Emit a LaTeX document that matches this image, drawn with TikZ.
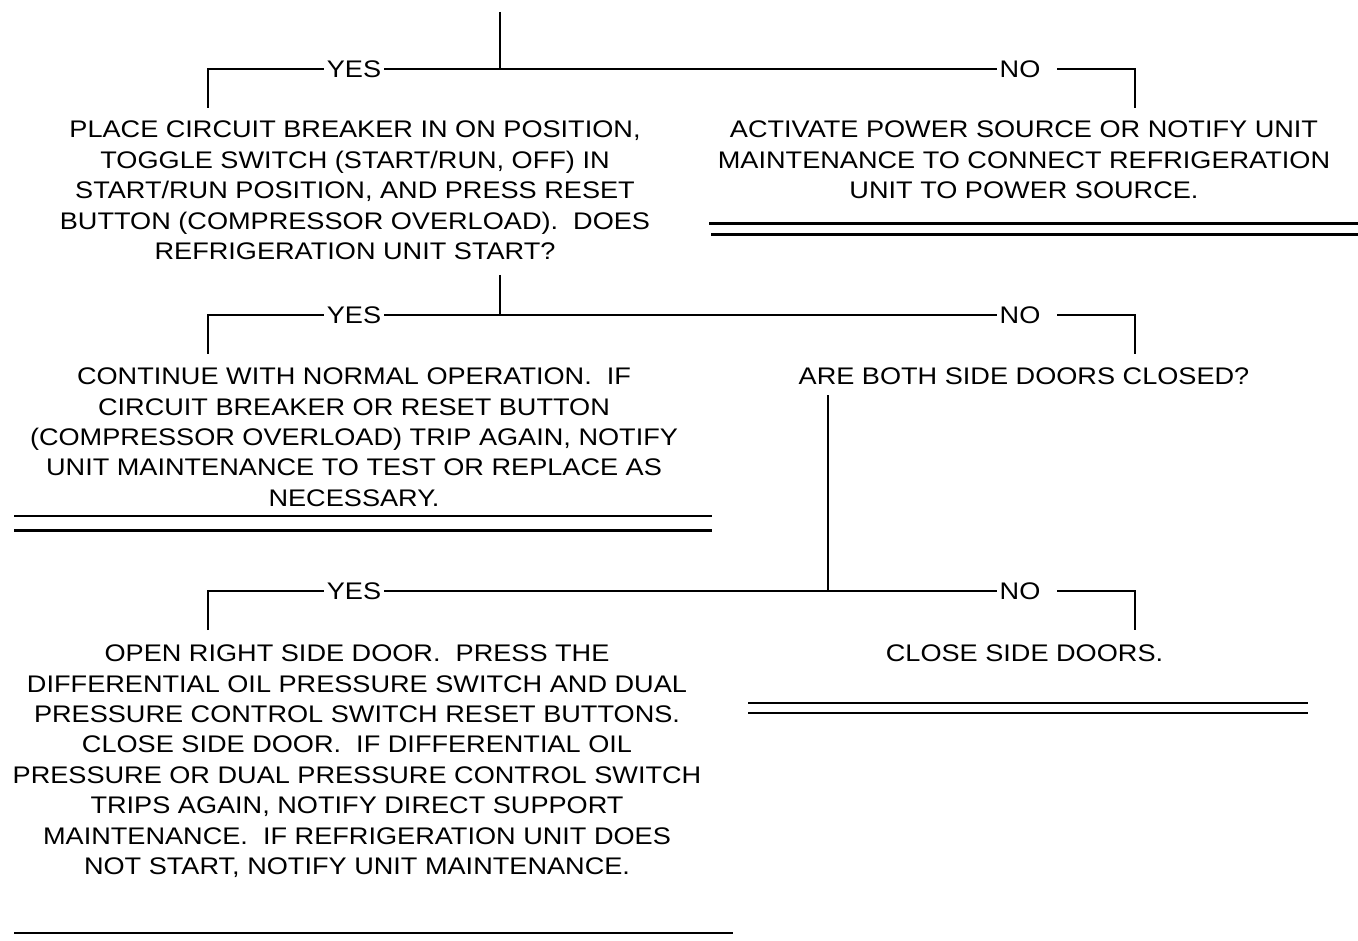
\documentclass[tikz,border=0pt]{standalone}
\usepackage{fontspec}
\setmainfont{Liberation Sans}[FakeStretch=1.13]
\begin{document}
\begin{tikzpicture}[x=1pt,y=-1pt,line width=2pt,
  txt/.style={font=\fontsize{24}{30.4}\selectfont, align=center, inner sep=0pt, anchor=base},
  lbl/.style={font=\fontsize{24}{26}\selectfont, inner sep=2pt, text height=17.2pt, text depth=0pt},
  rule/.style={line width=2.2pt}]
\useasboundingbox (0,0) rectangle (1358,941);
% ---------- row 1
\coordinate (top) at (500,12);
\coordinate (j1) at (500,69);
\coordinate (l1) at (208,69);
\coordinate (r1) at (1135,69);
\coordinate (dl1) at (208,108);
\coordinate (dr1) at (1135,108);
\node[lbl] (y1) at (354,69) {YES};
\node[lbl] (n1) at (1020,69) {NO};
\coordinate (n1e) at (1057,69);
\draw (top) -- (j1);
\draw (dl1) -- (l1) -- (y1.west);
\draw (y1.east) -- (n1.west);
\draw (n1e) -- (r1) -- (dr1);
\node[txt] (q1) at (355,259.5) {PLACE CIRCUIT BREAKER IN ON POSITION,\\TOGGLE SWITCH (START/RUN, OFF) IN\\START/RUN POSITION, AND PRESS RESET\\BUTTON (COMPRESSOR OVERLOAD).\ \ DOES\\REFRIGERATION UNIT START?};
\node[txt] (a1) at (1024,198.5) {ACTIVATE POWER SOURCE OR NOTIFY UNIT\\MAINTENANCE TO CONNECT REFRIGERATION\\UNIT TO POWER SOURCE.};
\coordinate (a1l1) at (709,223.5);
\coordinate (a1r1) at (1358,223.5);
\coordinate (a1l2) at (711,234.5);
\coordinate (a1r2) at (1358,234.5);
\draw[rule] (a1l1) -- (a1r1);
\draw[rule] (a1l2) -- (a1r2);
% ---------- row 2
\coordinate (t2) at (500,275);
\coordinate (j2) at (500,315);
\coordinate (l2) at (208,315);
\coordinate (r2) at (1135,315);
\coordinate (dl2) at (208,354);
\coordinate (dr2) at (1135,354);
\node[lbl] (y2) at (354,315) {YES};
\node[lbl] (n2) at (1020,315) {NO};
\coordinate (n2e) at (1057,315);
\draw (t2) -- (j2);
\draw (dl2) -- (l2) -- (y2.west);
\draw (y2.east) -- (n2.west);
\draw (n2e) -- (r2) -- (dr2);
\node[txt] (a2) at (354,506.3) {CONTINUE WITH NORMAL OPERATION.\ \ IF\\CIRCUIT BREAKER OR RESET BUTTON\\(COMPRESSOR OVERLOAD) TRIP AGAIN, NOTIFY\\UNIT MAINTENANCE TO TEST OR REPLACE AS\\NECESSARY.};
\coordinate (a2l1) at (14,516);
\coordinate (a2r1) at (712,516);
\coordinate (a2l2) at (14,530.5);
\coordinate (a2r2) at (712,530.5);
\draw[rule] (a2l1) -- (a2r1);
\draw[rule] (a2l2) -- (a2r2);
\node[txt] (q3) at (1024,384.7) {ARE BOTH SIDE DOORS CLOSED?};
% ---------- row 3
\coordinate (t3) at (828,395);
\coordinate (j3) at (828,591);
\coordinate (l3) at (208,591);
\coordinate (r3) at (1135,591);
\coordinate (dl3) at (208,630);
\coordinate (dr3) at (1135,630);
\node[lbl] (y3) at (354,591) {YES};
\node[lbl] (n3) at (1020,591) {NO};
\coordinate (n3e) at (1057,591);
\draw (t3) -- (j3);
\draw (dl3) -- (l3) -- (y3.west);
\draw (y3.east) -- (n3.west);
\draw (n3e) -- (r3) -- (dr3);
\node[txt] (a3) at (357,874.5) {OPEN RIGHT SIDE DOOR.\ \ PRESS THE\\DIFFERENTIAL OIL PRESSURE SWITCH AND DUAL\\PRESSURE CONTROL SWITCH RESET BUTTONS.\\CLOSE SIDE DOOR.\ \ IF DIFFERENTIAL OIL\\PRESSURE OR DUAL PRESSURE CONTROL SWITCH\\TRIPS AGAIN, NOTIFY DIRECT SUPPORT\\MAINTENANCE.\ \ IF REFRIGERATION UNIT DOES\\NOT START, NOTIFY UNIT MAINTENANCE.};
\coordinate (a3l) at (14,933);
\coordinate (a3r) at (733,933);
\draw[rule] (a3l) -- (a3r);
\node[txt] (a4) at (1024.5,661.7) {CLOSE SIDE DOORS.};
\coordinate (a4l1) at (748,703);
\coordinate (a4r1) at (1308,703);
\coordinate (a4l2) at (748,713);
\coordinate (a4r2) at (1308,713);
\draw[rule] (a4l1) -- (a4r1);
\draw[rule] (a4l2) -- (a4r2);
\end{tikzpicture}
\end{document}
